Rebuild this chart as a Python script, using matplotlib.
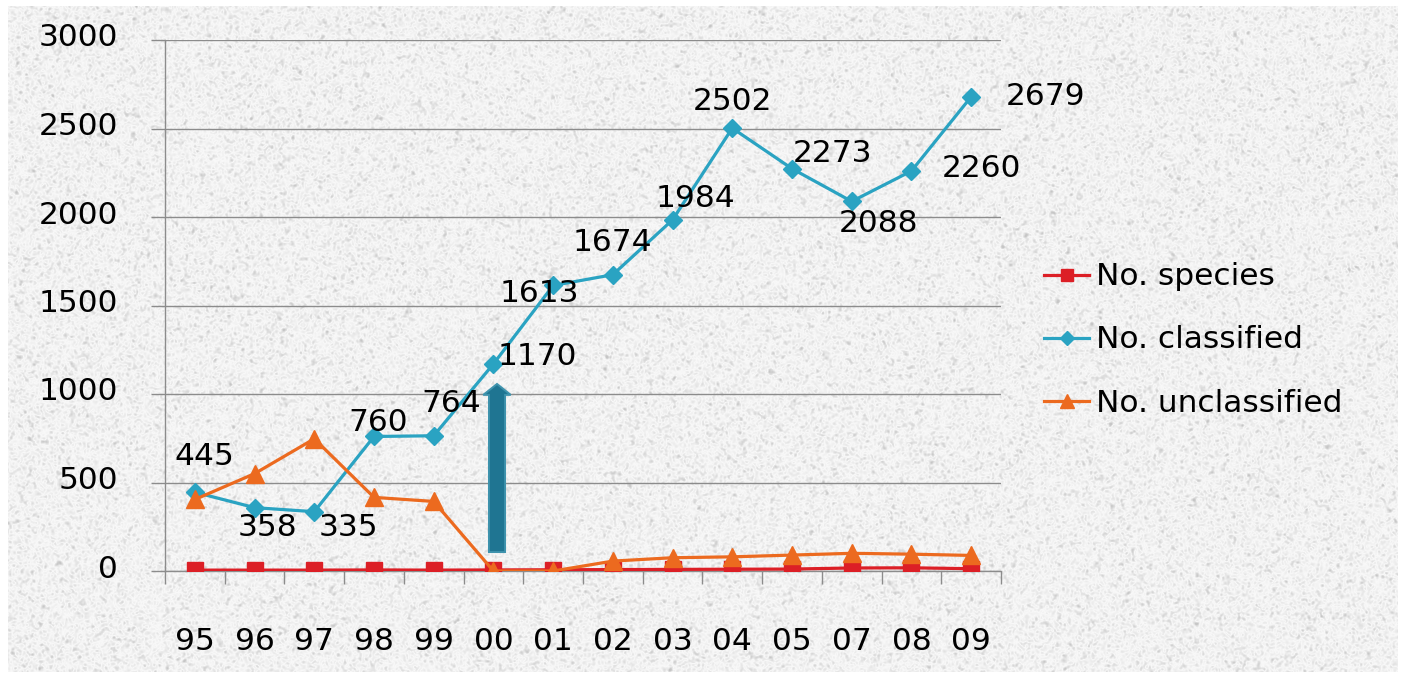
import numpy as np
import matplotlib
matplotlib.use("Agg")
import matplotlib.pyplot as plt
import matplotlib.transforms as mtransforms
from matplotlib.patches import FancyArrow

# ---- data -------------------------------------------------------------
years = ["95", "96", "97", "98", "99", "00", "01", "02", "03", "04", "05", "07", "08", "09"]
n_species = [5, 5, 5, 6, 5, 6, 7, 8, 9, 10, 11, 17, 18, 13]
n_classified = [445, 358, 335, 760, 764, 1170, 1613, 1674, 1984, 2502, 2273, 2088, 2260, 2679]
n_unclassified = [404, 550, 747, 416, 393, 0, 0, 56, 75, 80, 90, 100, 95, 88]
y_ticks = [0, 500, 1000, 1500, 2000, 2500, 3000]

# arrow marking the jump in year 00 (value range it spans)
arrow_from, arrow_to = 107, 1057

# label offsets (pixels) for the classified values
label_offsets = [(10, 36), (13, -20), (34, -16), (4, 14), (18, 32), (44, 7), (-14, -8),
                 (0, 32), (23, 21), (0, 27), (40, 15), (27, -22), (70, 2), (74, 0)]

# ---- figure -----------------------------------------------------------
W, H, DPI = 1406, 680, 100
fig = plt.figure(figsize=(W / DPI, H / DPI), dpi=DPI)
fig.patch.set_facecolor("white")

# speckled light paper texture behind the chart
rng = np.random.default_rng(11)
small = rng.normal(size=(H // 2 + 1, W // 2 + 1))
tex = np.repeat(np.repeat(small, 2, axis=0), 2, axis=1)[:H, :W]
k = np.ones(3) / 3
tex = np.apply_along_axis(lambda r: np.convolve(r, k, mode="same"), 1, tex)
tex = np.apply_along_axis(lambda c: np.convolve(c, k, mode="same"), 0, tex)
gray = np.clip(0.975 - 0.075 * np.abs(tex) - 0.02 * tex, 0.78, 1.0)
img = np.ones((H, W, 3))
img[6:672, 8:1398, :] = gray[6:672, 8:1398, None]
fig.figimage(img, xo=0, yo=0, origin="upper", zorder=-5)

ax = fig.add_axes([165 / W, 1 - 571 / H, (1001 - 165) / W, (571 - 40) / H])
ax.set_facecolor("none")
ax.set_zorder(2)

x = np.arange(len(years))
grid_c = "#8c8c8c"
fs = 22.5

ax.plot(x, n_species, color="#dc1f26", lw=2.3, marker="s", ms=11.5,
        label="No. species", zorder=3)
ax.plot(x, n_classified, color="#2aa3c2", lw=2.3, marker="D", ms=9.5,
        label="No. classified", zorder=4)
ax.plot(x, n_unclassified, color="#ec6a1f", lw=2.3, marker="^", ms=12.5,
        label="No. unclassified", zorder=5)

ax.add_patch(FancyArrow(5.06, arrow_from, 0, arrow_to - arrow_from, width=0.27,
                        head_width=0.46, head_length=62, length_includes_head=True,
                        fc="#1f7592", ec="#3f93ad", lw=1.4, zorder=6))

for xi, v, (dx, dy) in zip(x, n_classified, label_offsets):
    ax.annotate(str(v), (xi, v), xytext=(dx, dy), textcoords="offset pixels",
                ha="center", va="center", fontsize=fs, color="black", zorder=7)

ax.set_xlim(-0.5, len(years) - 0.5)
ax.set_ylim(0, 3000)
ax.set_yticks(y_ticks)
ax.set_yticklabels([str(t) for t in y_ticks])
ax.set_xticks(x)
ax.set_xticklabels(years)
ax.set_xticks(np.arange(len(years) + 1) - 0.5, minor=True)

ax.grid(axis="y", color=grid_c, lw=1.0, zorder=1)
ax.tick_params(axis="y", which="major", length=10, width=1.0, color=grid_c,
               direction="out", pad=24, labelsize=fs)
ax.tick_params(axis="x", which="major", length=0, pad=40, labelsize=fs)
ax.tick_params(axis="x", which="minor", length=9, width=1.0, color=grid_c,
               direction="out")
shift = mtransforms.ScaledTranslation(0, 5 / DPI, fig.dpi_scale_trans)
for lab in ax.get_yticklabels():
    lab.set_transform(lab.get_transform() + shift)

for side in ("top", "right"):
    ax.spines[side].set_visible(False)
for side in ("left", "bottom"):
    ax.spines[side].set_color(grid_c)
    ax.spines[side].set_linewidth(1.0)

leg = fig.legend(loc="center left", bbox_to_anchor=(1044 / W, 1 - 340 / H),
                 frameon=False, fontsize=fs, handlelength=1.45, handletextpad=0.2,
                 labelspacing=1.09, borderpad=0, borderaxespad=0, markerscale=0.8)
leg.set_zorder(3)

fig.savefig("out.png", dpi=DPI)
